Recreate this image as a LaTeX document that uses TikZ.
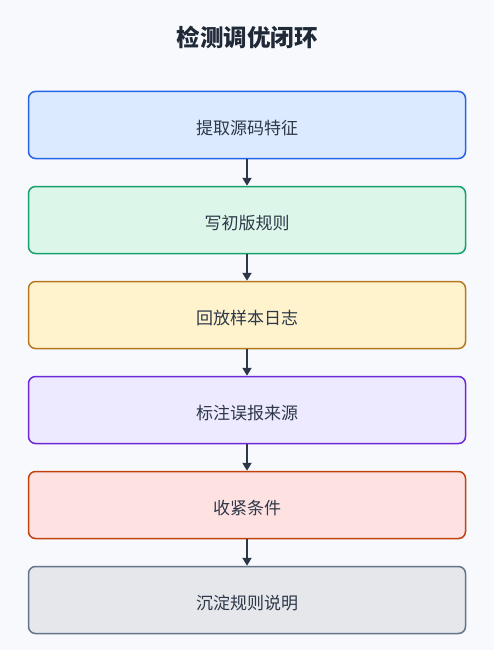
\documentclass[tikz,border=0pt]{standalone}
\usepackage{fontspec}
\setmainfont{Noto Sans CJK SC}
\usetikzlibrary{arrows.meta}
\definecolor{bg}{HTML}{F7F9FC}
\definecolor{titlec}{HTML}{1F2937}
\definecolor{textc}{HTML}{2D3748}
\definecolor{arrowc}{HTML}{2D3748}
\definecolor{fA}{HTML}{DBEAFE}\definecolor{dA}{HTML}{2563EB}
\definecolor{fB}{HTML}{DCF7EA}\definecolor{dB}{HTML}{16A06A}
\definecolor{fC}{HTML}{FEF3CD}\definecolor{dC}{HTML}{B7791F}
\definecolor{fD}{HTML}{EDE9FE}\definecolor{dD}{HTML}{6D28D9}
\definecolor{fE}{HTML}{FEE2E2}\definecolor{dE}{HTML}{C2410C}
\definecolor{fF}{HTML}{E5E7EB}\definecolor{dF}{HTML}{64748B}
\tikzset{
  stepbox/.style={draw=#1, line width=1.5pt, rounded corners=7pt, minimum width=437pt, minimum height=67pt, inner sep=0pt, text height=19pt, text depth=0pt, text=textc, font=\fontsize{17}{20}\selectfont},
  flowarrow/.style={draw=arrowc, line width=2.2pt, -{Triangle[length=8pt,width=9pt]}},
}
\begin{document}
\begin{tikzpicture}[x=1pt,y=-1pt]
\fill[bg] (0,0) rectangle (494,650);
\useasboundingbox (0,0) rectangle (494,650);
\node[font=\fontsize{23.5}{27}\selectfont\bfseries, text=titlec] (title) at (247,37) {检测调优闭环};
\node[stepbox=dA, fill=fA] (s1) at (247,125) {提取源码特征};
\node[stepbox=dB, fill=fB] (s2) at (247,220) {写初版规则};
\node[stepbox=dC, fill=fC] (s3) at (247,315) {回放样本日志};
\node[stepbox=dD, fill=fD] (s4) at (247,410) {标注误报来源};
\node[stepbox=dE, fill=fE] (s5) at (247,505) {收紧条件};
\node[stepbox=dF, fill=fF] (s6) at (247,600) {沉淀规则说明};
\foreach \a/\b in {s1/s2,s2/s3,s3/s4,s4/s5,s5/s6}
  \draw[flowarrow] (\a.south) -- (\b.north);
\end{tikzpicture}
\end{document}
